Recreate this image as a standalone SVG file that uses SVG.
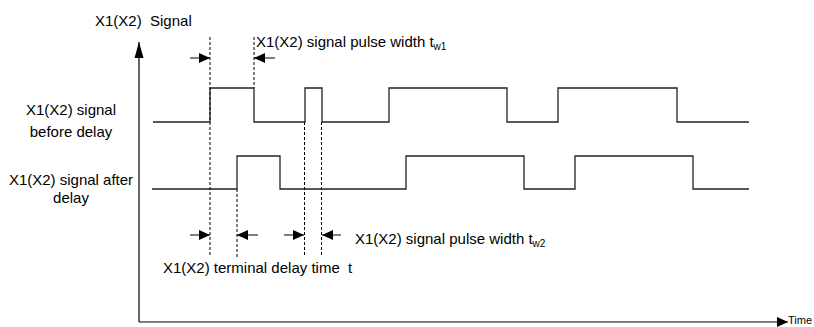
<svg xmlns="http://www.w3.org/2000/svg" width="814" height="327" viewBox="0 0 814 327">
<style>
text{font-family:"Liberation Sans",Arial,sans-serif;font-size:15px;fill:#000;white-space:pre}
.sub{font-size:10px}
.sig{fill:none;stroke:#222;stroke-width:1.3}
.dash{fill:none;stroke:#000;stroke-width:1;stroke-dasharray:3 2}
.axis{fill:none;stroke:#000;stroke-width:1.2}
.dim{fill:none;stroke:#000;stroke-width:1}
</style>
<defs>
<marker id="ah" markerUnits="userSpaceOnUse" markerWidth="11" markerHeight="10" refX="11" refY="5" orient="auto"><path d="M0,0 L11,5 L0,10 z" fill="#000"/></marker>
<marker id="ahY" markerUnits="userSpaceOnUse" markerWidth="16" markerHeight="10" refX="16" refY="5" orient="auto"><path d="M0,0.5 L16,5 L0,9.5 z" fill="#000"/></marker>
</defs>
<rect width="814" height="327" fill="#fff"/>
<g id="axes">
<line class="axis" x1="139" y1="322" x2="139" y2="42" marker-end="url(#ahY)"/>
<line class="axis" x1="139" y1="322" x2="788" y2="322" marker-end="url(#ah)"/>
<text x="788" y="324" style="font-size:11px">Time</text>
<text x="95" y="26">X1(X2)  Signal</text>
</g>
<g id="signal-before">
<path class="sig" d="M153,122 H210 V88 H254 V122 H305 V88 H322 V122 H389 V88 H507 V122 H558 V88 H677 V122 H749"/>
<text x="71" y="115" text-anchor="middle">X1(X2) signal</text>
<text x="71" y="137" text-anchor="middle">before delay</text>
</g>
<g id="signal-after">
<path class="sig" d="M152,189 H237 V156 H280 V189 H406 V156 H524 V189 H575 V156 H693 V189 H749"/>
<text x="71" y="185" text-anchor="middle">X1(X2) signal after</text>
<text x="71" y="203" text-anchor="middle">delay</text>
</g>
<g id="connectors">
<line class="dash" x1="210" y1="37" x2="210" y2="257"/>
<line class="dash" x1="254" y1="37" x2="254" y2="88"/>
<line class="dash" x1="237" y1="189" x2="237" y2="257"/>
<line class="dash" x1="304.5" y1="122" x2="304.5" y2="257"/>
<line class="dash" x1="321.5" y1="122" x2="321.5" y2="257"/>
<line class="dim" x1="190" y1="58" x2="210" y2="58" marker-end="url(#ah)"/>
<line class="dim" x1="275" y1="58" x2="254" y2="58" marker-end="url(#ah)"/>
<line class="dim" x1="190" y1="235" x2="210" y2="235" marker-end="url(#ah)"/>
<line class="dim" x1="258" y1="235" x2="237" y2="235" marker-end="url(#ah)"/>
<line class="dim" x1="284" y1="235" x2="304" y2="235" marker-end="url(#ah)"/>
<line class="dim" x1="341" y1="235" x2="322" y2="235" marker-end="url(#ah)"/>
</g>
<g id="labels">
<text x="256" y="47">X1(X2) signal pulse width t<tspan class="sub" dy="3">w1</tspan></text>
<text x="355" y="244">X1(X2) signal pulse width t<tspan class="sub" dy="3">w2</tspan></text>
<text x="163" y="273">X1(X2) terminal delay time</text>
<text x="348" y="273">t</text>
</g>
</svg>
